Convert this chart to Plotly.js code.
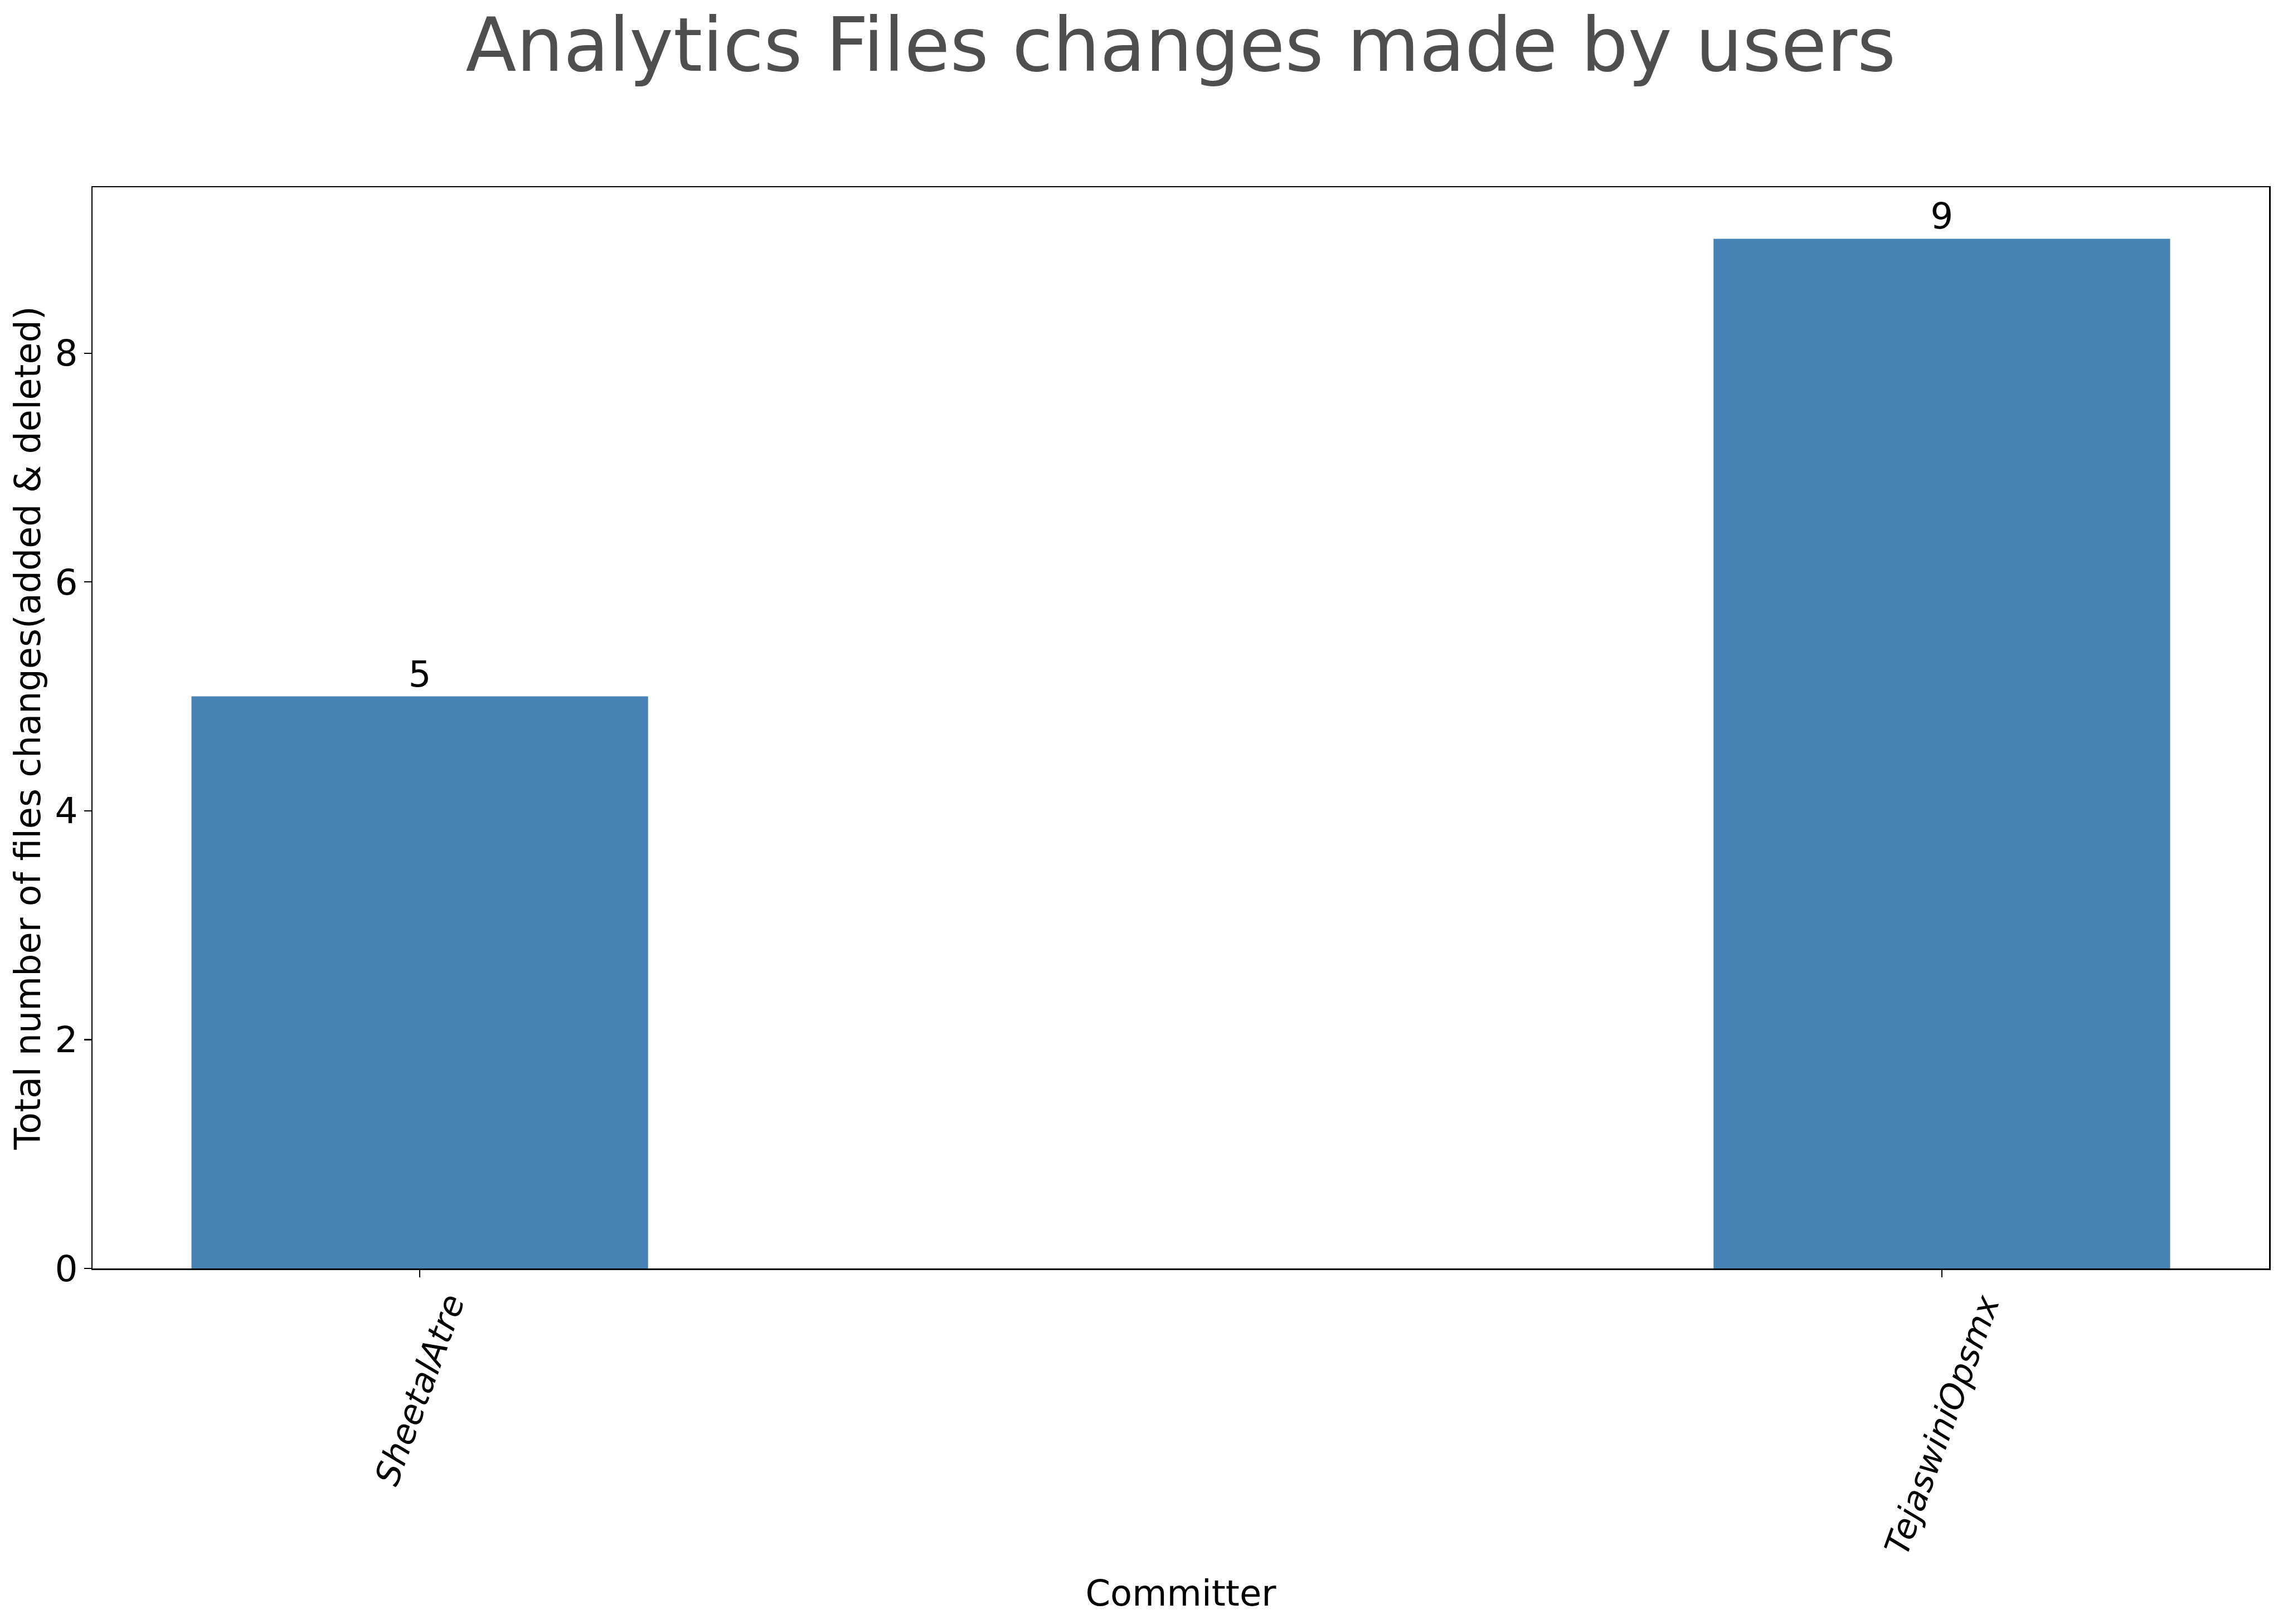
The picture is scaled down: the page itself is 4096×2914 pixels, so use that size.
<!DOCTYPE html>
<html>
<head>
<meta charset="utf-8">
<script src="https://cdn.plot.ly/plotly-3.0.1.min.js"></script>
<style>
html,body{margin:0;padding:0;background:#fff;}
#chart{width:4096px;height:2914px;}
</style>
</head>
<body>
<div id="chart"></div>
<script>
// Data
const committers = ["SheetalAtre", "TejaswiniOpsmx"];
const fileChanges = [5, 9];
const yTickValues = [0, 2, 4, 6, 8];

const titleText = "Analytics Files changes made by users";
const xTitleText = "Committer";
const yTitleText = "Total number of files changes(added &amp; deleted)";

const FONT = "DejaVu Sans, Liberation Sans, sans-serif";
const fs = 64;

const trace = {
  type: "bar",
  x: committers.map((c, i) => i),
  y: fileChanges,
  width: 0.3,
  marker: {color: "#4682B4", line: {width: 0}},
  text: fileChanges.map(String),
  textposition: "outside",
  textfont: {family: FONT, size: fs, color: "#000"},
  cliponaxis: false,
  hoverinfo: "none"
};

const tickAnnotations = committers.map((c, i) => ({
  x: i, xref: "x",
  y: -0.0185, yref: "paper",
  text: c,
  textangle: -70,
  showarrow: false,
  xanchor: "center",
  yanchor: "top",
  borderpad: 0,
  font: {family: "DejaVu Sans", size: 61, color: "#000", style: "italic"}
}));

const layout = {
  width: 4096, height: 2914,
  paper_bgcolor: "#fff", plot_bgcolor: "#fff",
  margin: {l: 165.5, r: 25.3, t: 336, b: 638.4, pad: 0},
  showlegend: false,
  title: {
    text: titleText,
    font: {family: FONT, size: 133, color: "#4f4f4f"},
    x: 0.5, xref: "paper", xanchor: "center",
    y: 1 - 80 / 2914, yref: "container", yanchor: "middle"
  },
  xaxis: {
    type: "linear",
    range: [-0.215, 1.215],
    tickvals: committers.map((c, i) => i),
    showticklabels: false,
    ticks: "outside", ticklen: 13, tickwidth: 2.2, tickcolor: "#000",
    showline: true, linecolor: "#000", linewidth: 2.5, mirror: true,
    showgrid: false, zeroline: false,
    title: {text: xTitleText, font: {family: FONT, size: fs, color: "#000"}, standoff: 546}
  },
  yaxis: {
    range: [0, 9.45],
    tickvals: yTickValues,
    ticktext: yTickValues.map(String),
    ticks: "outside", ticklen: 13, tickwidth: 2.2, tickcolor: "#000",
    ticklabelstandoff: -2,
    tickfont: {family: FONT, size: 64.5, color: "#000"},
    showline: true, linecolor: "#000", linewidth: 2.5, mirror: true,
    showgrid: false, zeroline: false,
    title: {text: yTitleText, font: {family: FONT, size: 63.5, color: "#000"}, standoff: 6}
  },
  annotations: tickAnnotations
};

Plotly.newPlot("chart", [trace], layout, {staticPlot: true, displayModeBar: false});
</script>
</body>
</html>
